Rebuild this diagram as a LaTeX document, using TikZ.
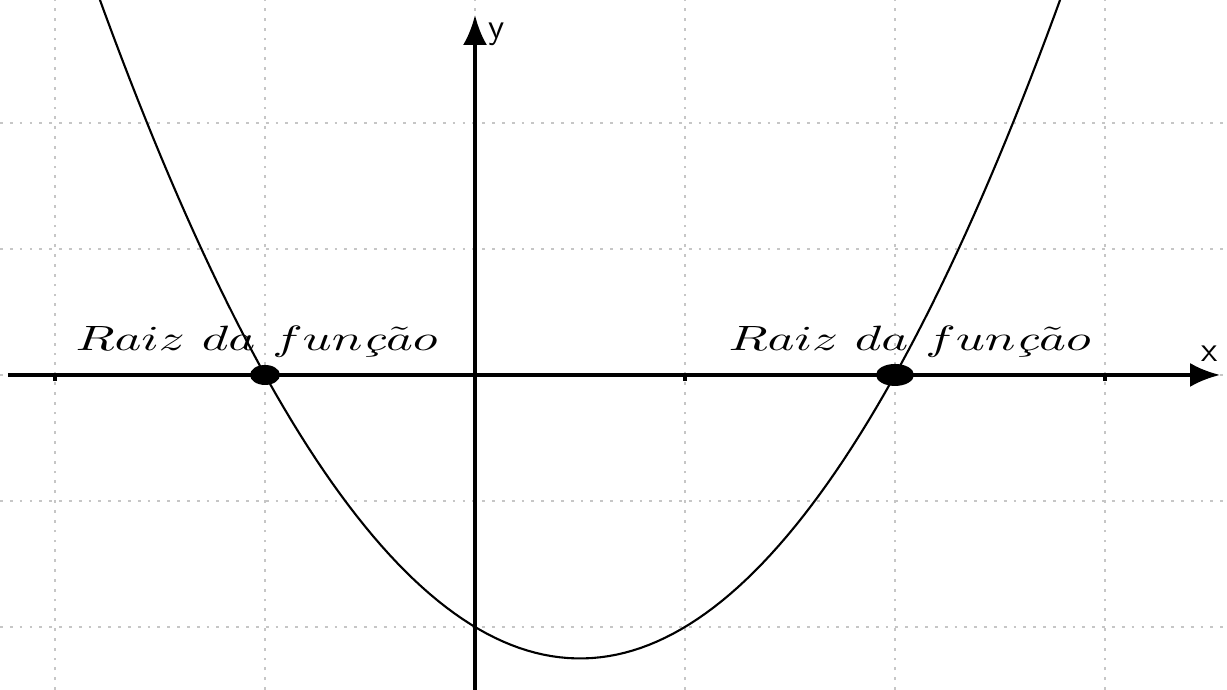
\documentclass[tikz,border=0pt]{standalone}
\usepackage{amsmath, amssymb}
\usepackage{tikz}
\usetikzlibrary{positioning,arrows.meta,shapes.geometric}

\begin{document}
\begin{tikzpicture}[x=2.1cm,y=1.26cm]

			\useasboundingbox (-2.262,-2.5) rectangle (3.581,2.976);
			\clip (-2.262,-2.5) rectangle (3.581,2.976);

			% grade pontilhada
			\foreach \i in {-2,...,3} \draw[gray!45,dotted,line width=0.8pt] (\i,-2.5) -- (\i,2.976);
			\foreach \j in {-2,...,2} \draw[gray!45,dotted,line width=0.8pt] (-2.262,\j) -- (3.581,\j);

			% eixos
			\coordinate (xa) at (-2.224,0);
			\coordinate (xb) at (3.548,0);
			\coordinate (ya) at (0,-2.5);
			\coordinate (yb) at (0,2.857);
			\draw[line width=1.1pt,-{Latex[length=3mm,width=2.4mm]}] (xa) -- (xb);
			\draw[line width=1.1pt,-{Latex[length=3mm,width=2.4mm]}] (ya) -- (yb);
			\node[font=\sffamily] (lx) at (3.5,0.17) {x};
			\node[font=\sffamily] (ly) at (0.105,2.7) {y};
			\foreach \i in {-2,1,3} \draw[line width=1pt] (\i,0) -- (\i,-0.05);

			% parabola
			\draw[line width=0.6pt,domain=-1.8:2.8,samples=120] plot (\x,{\x*\x-\x-2});

			% raizes
			\node[ellipse,fill=black,inner sep=0pt,minimum width=3mm,minimum height=2mm] (r1) at (-1,0) {};
			\node[ellipse,fill=black,inner sep=0pt,minimum width=3.8mm,minimum height=2.2mm] (r2) at (2,0) {};

			\node[xscale=1.45,transform shape,inner sep=1pt] (t1) at (-1.04,0.26) {$Raiz\ da\ fun\text{\itshape ç}\tilde{a}o$};
			\node[xscale=1.45,transform shape,inner sep=1pt] (t2) at (2.07,0.26) {$Raiz\ da\ fun\text{\itshape ç}\tilde{a}o$};

		\end{tikzpicture}
\end{document}
